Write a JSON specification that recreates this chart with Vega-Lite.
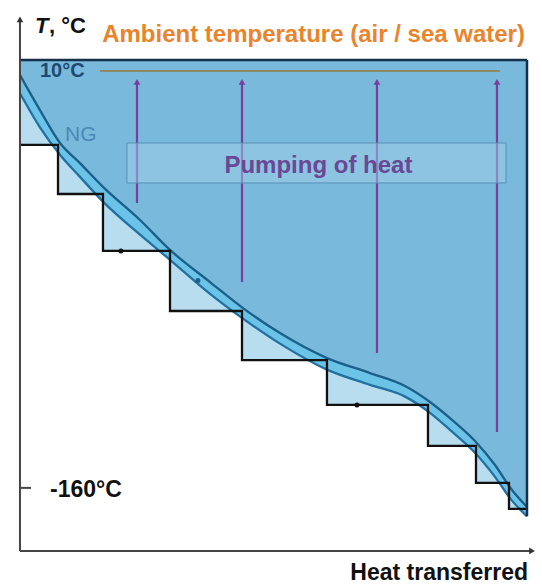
{
  "$schema": "https://vega.github.io/schema/vega-lite/v6.json",
  "width": 542,
  "height": 585,
  "autosize": {"type": "fit", "contains": "padding"},
  "padding": 0,
  "background": "white",
  "config": {"view": {"stroke": null}, "text": {"font": "Liberation Sans"}},
  "datasets": {
    "steps": [
      {"h": 0, "t": -20.2},
      {"h": 7.5, "t": -40.2},
      {"h": 16.37, "t": -63.4},
      {"h": 29.59, "t": -87.9},
      {"h": 43.79, "t": -107.9},
      {"h": 60.55, "t": -126.2},
      {"h": 80.47, "t": -142.9},
      {"h": 89.94, "t": -158.0},
      {"h": 96.45, "t": -168.6},
      {"h": 100, "t": -168.6}
    ],
    "ng": [
      {"h": 0, "t": 8.3, "lo": 0.9},
      {"h": 3.94, "t": -6.0, "lo": -13.0},
      {"h": 7.89, "t": -19.4, "lo": -24.2},
      {"h": 11.83, "t": -27.6, "lo": -33.2},
      {"h": 16.37, "t": -37.3, "lo": -43.3},
      {"h": 23.67, "t": -50.8, "lo": -56.8},
      {"h": 29.59, "t": -63.0, "lo": -67.0},
      {"h": 37.48, "t": -76.1, "lo": -80.9},
      {"h": 43.98, "t": -86.7, "lo": -91.0},
      {"h": 51.28, "t": -96.9, "lo": -101.2},
      {"h": 60.55, "t": -107.1, "lo": -111.8},
      {"h": 69.03, "t": -113.2, "lo": -118.0},
      {"h": 75.94, "t": -118.5, "lo": -122.8},
      {"h": 80.87, "t": -125.0, "lo": -129.4},
      {"h": 85.21, "t": -132.3, "lo": -137.1},
      {"h": 89.74, "t": -140.9, "lo": -145.7},
      {"h": 93.69, "t": -150.7, "lo": -155.5},
      {"h": 97.04, "t": -160.9, "lo": -165.2},
      {"h": 100, "t": -167.8, "lo": -171.6}
    ],
    "segments": [
      {"kind": "ambient", "h": 15.78, "h2": 94.67, "t": 10, "t2": 10},
      {"kind": "box", "h": 0, "h2": 100, "t": 14.44, "t2": 14.44},
      {"kind": "box", "h": 100, "h2": 100, "t": 14.44, "t2": -171.6},
      {"kind": "axis", "h": 0, "h2": 0, "t": 31.0, "t2": -185.7},
      {"kind": "axis", "h": 0, "h2": 101.0, "t": -185.7, "t2": -185.7},
      {"kind": "axis", "h": 0, "h2": 2.17, "t": -160, "t2": -160}
    ],
    "heads": [
      {"kind": "up", "h": 0, "t": 31.0},
      {"kind": "right", "h": 101.0, "t": -185.7}
    ],
    "arrows": [
      {"h": 23.08, "t": 5.5, "t2": -43.9},
      {"h": 43.79, "t": 5.5, "t2": -76.1},
      {"h": 70.41, "t": 5.5, "t2": -105.0},
      {"h": 94.08, "t": 5.5, "t2": -137.2}
    ],
    "pumpbox": [
      {"h": 21.1, "h2": 95.86, "t": -19.4, "t2": -35.7}
    ],
    "dots": [
      {"kind": "step", "h": 19.92, "t": -63.4},
      {"kind": "step", "h": 66.47, "t": -126.2},
      {"kind": "curve", "h": 35.1, "t": -75.5}
    ]
  },
  "encoding": {
    "x": {"field": "h", "type": "quantitative", "scale": {"domain": [-3.94, 102.96], "nice": false, "zero": false}, "axis": null},
    "y": {"field": "t", "type": "quantitative", "scale": {"domain": [-199.6, 38.9], "nice": false, "zero": false}, "axis": null}
  },
  "layer": [
    {
      "data": {"name": "steps"},
      "mark": {"type": "area", "interpolate": "step-after", "color": "#b7ddef"},
      "encoding": {"y2": {"datum": 14.44}}
    },
    {
      "data": {"name": "ng"},
      "mark": {"type": "area", "interpolate": "monotone", "color": "#78b9dc"},
      "encoding": {"y2": {"datum": 14.44}}
    },
    {
      "data": {"name": "ng"},
      "mark": {"type": "area", "interpolate": "monotone", "color": "#6cc3e8"},
      "encoding": {"y2": {"field": "lo"}}
    },
    {
      "data": {"name": "ng"},
      "mark": {"type": "line", "interpolate": "monotone", "color": "#2270a0", "strokeWidth": 2.3},
      "encoding": {"y": {"field": "lo", "type": "quantitative", "scale": {"domain": [-199.6, 38.9], "nice": false, "zero": false}, "axis": null}}
    },
    {
      "data": {"name": "ng"},
      "mark": {"type": "line", "interpolate": "monotone", "color": "#1b5f8a", "strokeWidth": 2.3}
    },
    {
      "data": {"name": "steps"},
      "mark": {"type": "line", "interpolate": "step-after", "color": "#111111", "strokeWidth": 2.3}
    },
    {
      "data": {"name": "dots"},
      "transform": [{"filter": "datum.kind === 'step'"}],
      "mark": {"type": "point", "filled": true, "color": "#111111", "size": 25, "opacity": 1}
    },
    {
      "data": {"name": "dots"},
      "transform": [{"filter": "datum.kind === 'curve'"}],
      "mark": {"type": "point", "filled": true, "color": "#1b5f8a", "size": 25, "opacity": 1}
    },
    {
      "data": {"name": "arrows"},
      "mark": {"type": "rule", "color": "#7a3f9c", "strokeWidth": 2.2},
      "encoding": {"y2": {"field": "t2"}}
    },
    {
      "data": {"name": "arrows"},
      "mark": {"type": "point", "shape": "triangle-up", "filled": true, "color": "#7a3f9c", "size": 45, "opacity": 1}
    },
    {
      "data": {"name": "pumpbox"},
      "mark": {"type": "rect", "fill": "#9fcfe6", "fillOpacity": 0.5, "stroke": "#5b8fb8", "strokeWidth": 1},
      "encoding": {"x2": {"field": "h2"}, "y2": {"field": "t2"}}
    },
    {
      "data": {"values": [{"h": 58.87, "t": -31.6, "label": "Pumping of heat"}]},
      "mark": {"type": "text", "align": "center", "baseline": "alphabetic", "fontSize": 24, "fontWeight": "bold", "color": "#6a4895"},
      "encoding": {"text": {"field": "label"}}
    },
    {
      "data": {"name": "segments"},
      "transform": [{"filter": "datum.kind === 'ambient'"}],
      "mark": {"type": "rule", "color": "#8e8a68", "strokeWidth": 2},
      "encoding": {"x2": {"field": "h2"}, "y2": {"field": "t2"}}
    },
    {
      "data": {"name": "segments"},
      "transform": [{"filter": "datum.kind === 'box'"}],
      "mark": {"type": "rule", "color": "#15304a", "strokeWidth": 2.5},
      "encoding": {"x2": {"field": "h2"}, "y2": {"field": "t2"}}
    },
    {
      "data": {"name": "segments"},
      "transform": [{"filter": "datum.kind === 'axis'"}],
      "mark": {"type": "rule", "color": "#444444", "strokeWidth": 2},
      "encoding": {"x2": {"field": "h2"}, "y2": {"field": "t2"}}
    },
    {
      "data": {"name": "heads"},
      "transform": [{"filter": "datum.kind === 'up'"}],
      "mark": {"type": "point", "shape": "triangle-up", "filled": true, "color": "#333333", "size": 45, "opacity": 1}
    },
    {
      "data": {"name": "heads"},
      "transform": [{"filter": "datum.kind === 'right'"}],
      "mark": {"type": "point", "shape": "triangle-right", "filled": true, "color": "#333333", "size": 45, "opacity": 1}
    },
    {
      "data": {"values": [{"h": 2.96, "t": 25.45, "label": "T"}]},
      "mark": {"type": "text", "align": "left", "baseline": "alphabetic", "fontSize": 22, "fontWeight": "bold", "fontStyle": "italic", "color": "#111111"},
      "encoding": {"text": {"field": "label"}}
    },
    {
      "data": {"values": [{"h": 5.72, "t": 25.45, "label": ", °C"}]},
      "mark": {"type": "text", "align": "left", "baseline": "alphabetic", "fontSize": 22, "fontWeight": "bold", "color": "#111111"},
      "encoding": {"text": {"field": "label"}}
    },
    {
      "data": {"values": [{"h": 99.6, "t": 21.78, "label": "Ambient temperature (air / sea water)"}]},
      "mark": {"type": "text", "align": "right", "baseline": "alphabetic", "fontSize": 24, "fontWeight": "bold", "color": "#e8842c"},
      "encoding": {"text": {"field": "label"}}
    },
    {
      "data": {"values": [{"h": 3.94, "t": 7.5, "label": "10°C"}]},
      "mark": {"type": "text", "align": "left", "baseline": "alphabetic", "fontSize": 20, "fontWeight": "bold", "color": "#1e4a70"},
      "encoding": {"text": {"field": "label"}}
    },
    {
      "data": {"values": [{"h": 8.88, "t": -18.5, "label": "NG"}]},
      "mark": {"type": "text", "align": "left", "baseline": "alphabetic", "fontSize": 21, "color": "#4d88b5"},
      "encoding": {"text": {"field": "label"}}
    },
    {
      "data": {"values": [{"h": 5.92, "t": -163.7, "label": "-160°C"}]},
      "mark": {"type": "text", "align": "left", "baseline": "alphabetic", "fontSize": 23, "fontWeight": "bold", "color": "#111111"},
      "encoding": {"text": {"field": "label"}}
    },
    {
      "data": {"values": [{"h": 100.2, "t": -197.5, "label": "Heat transferred"}]},
      "mark": {"type": "text", "align": "right", "baseline": "alphabetic", "fontSize": 23, "fontWeight": "bold", "color": "#111111"},
      "encoding": {"text": {"field": "label"}}
    }
  ]
}
